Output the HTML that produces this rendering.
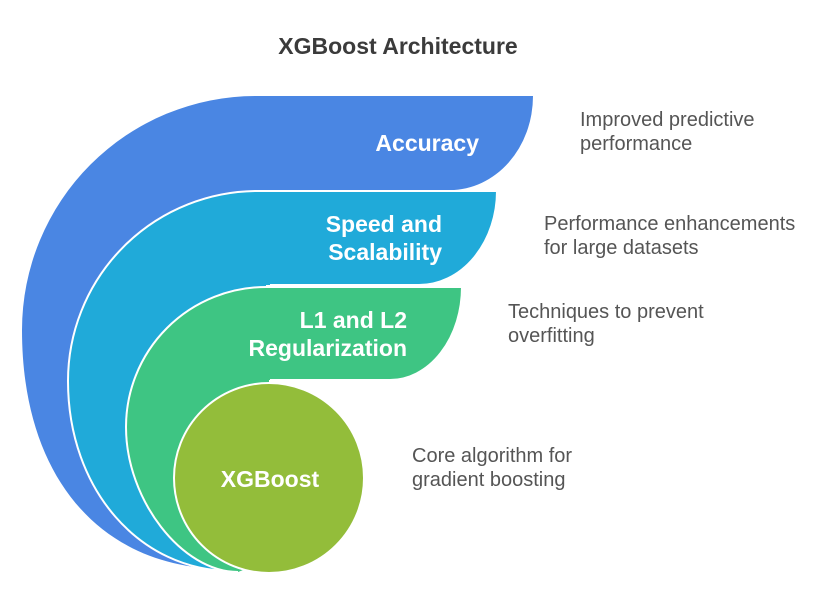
<!DOCTYPE html>
<html>
<head>
<meta charset="utf-8">
<style>
  html, body { margin: 0; padding: 0; background: #ffffff; }
  body { width: 820px; height: 593px; overflow: hidden; }
  svg { display: block; }
  .lbl { font-family: "Liberation Sans", Arial, sans-serif; font-weight: bold; font-size: 23px; fill: #ffffff; }
  .desc { font-family: "Liberation Sans", Arial, sans-serif; font-size: 20px; fill: #555555; }
  .title { font-family: "Liberation Sans", Arial, sans-serif; font-weight: bold; font-size: 23px; fill: #3b3b3b; }
  .sep { fill: none; stroke: #ffffff; stroke-width: 2; stroke-linejoin: round; stroke-linecap: butt; }
</style>
</head>
<body>
<svg width="820" height="593" viewBox="0 0 820 593" xmlns="http://www.w3.org/2000/svg">
  <rect x="0" y="0" width="820" height="593" fill="#ffffff"/>

  <!-- Title -->
  <text class="title" x="398" y="54" text-anchor="middle">XGBoost Architecture</text>

  <!-- Blue layer: Accuracy -->
  <path d="M226,569 C103,569 22,480 22,330 A234,234 0 0 1 256,96 L533,96 A83,94 0 0 1 450,190 L258,190 L258,450 Z"
        fill="#4A86E3"/>

  <!-- Light blue layer: Speed and Scalability -->
  <path d="M232,571 C140,571 68,490 68,381 A190,190 0 0 1 258,191 L497,191 A78,94 0 0 1 419,285 L266,285 L266,450 Z"
        fill="#20AAD9"/>
  <path class="sep" d="M232,571 C140,571 68,490 68,381 A190,190 0 0 1 258,191 L497,191 A78,94 0 0 1 419,285 L270,285"/>

  <!-- Green layer: L1 and L2 Regularization -->
  <path d="M238,572 C182,572 126,500 126,427 A140,140 0 0 1 266,287 L462,287 A72,93 0 0 1 390,380 L269,380 L269,560 Z"
        fill="#3EC583"/>
  <path class="sep" d="M238,572 C182,572 126,500 126,427 A140,140 0 0 1 266,287 L462,287 A72,93 0 0 1 390,380 L270,380"/>

  <!-- Core circle: XGBoost -->
  <circle cx="269" cy="478" r="95" fill="#93BD3A" stroke="#ffffff" stroke-width="2"/>

  <!-- Labels inside shapes -->
  <text class="lbl" x="479" y="151" text-anchor="end">Accuracy</text>
  <text class="lbl" x="442" y="232" text-anchor="end">Speed and</text>
  <text class="lbl" x="442" y="260" text-anchor="end">Scalability</text>
  <text class="lbl" x="407" y="328" text-anchor="end">L1 and L2</text>
  <text class="lbl" x="407" y="356" text-anchor="end">Regularization</text>
  <text class="lbl" x="270" y="487" text-anchor="middle">XGBoost</text>

  <!-- Descriptions -->
  <text class="desc" x="580" y="126">Improved predictive</text>
  <text class="desc" x="580" y="150">performance</text>

  <text class="desc" x="544" y="230">Performance enhancements</text>
  <text class="desc" x="544" y="254">for large datasets</text>

  <text class="desc" x="508" y="318">Techniques to prevent</text>
  <text class="desc" x="508" y="342">overfitting</text>

  <text class="desc" x="412" y="462">Core algorithm for</text>
  <text class="desc" x="412" y="486">gradient boosting</text>
</svg>
</body>
</html>
